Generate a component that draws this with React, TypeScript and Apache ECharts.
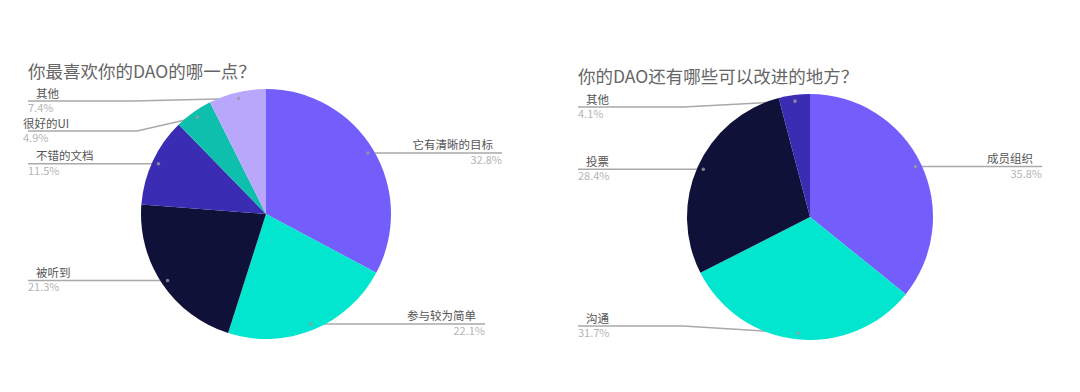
import React, { useEffect, useRef } from "react";
import * as echarts from "echarts";

// ---------- data ----------
const leftTitle = "你最喜欢你的DAO的哪一点？";
const leftNames = ["它有清晰的目标", "参与较为简单", "被听到", "不错的文档", "很好的UI", "其他"];
const leftValues = [32.8, 22.1, 21.3, 11.5, 4.9, 7.4];
const leftColors = ["#735EFB", "#02E5CF", "#0F1139", "#3A2DB3", "#0EBFAE", "#B9A7FB"];

const rightTitle = "你的DAO还有哪些可以改进的地方？";
const rightNames = ["成员组织", "沟通", "投票", "其他"];
const rightValues = [35.8, 31.7, 28.4, 4.1];
const rightColors = ["#735EFB", "#02E5CF", "#0F1139", "#3A2DB3"];

// ---------- layout (positions only) ----------
const FONT = "'Noto Sans CJK SC', 'Noto Sans', sans-serif";
const NAME_LH = 15;
const LEFT_PIE = {
  center: [266, 214], r: 125, leftX: 28, rightX: 502, titleX: 28, titleY: 62,
  over: { 1: { endX: 485 }, 4: { lineY: 131, bendX: 137, pad: -5 }, 5: { lineY: 101, bendX: 133 } } as Record<number, any>,
};
const RIGHT_PIE = {
  center: [810, 217], r: 123, leftX: 578, rightX: 1042, titleX: 578, titleY: 67,
  over: { 1: { lineY: 326, bendX: 683 }, 3: { lineY: 107, bendX: 683 } } as Record<number, any>,
};
const DOT_R = 0.95;

function midAngles(values: number[]) {
  const total = values.reduce((a, b) => a + b, 0);
  let acc = 0;
  return values.map((v) => {
    const m = (acc + v / 2) / total;
    acc += v;
    return m; // fraction of the circle, clockwise from top
  });
}

function buildPie(names: string[], values: number[], colors: string[], cfg: any, polarIndex: number) {
  const mids = midAngles(values);
  const dots = mids.map((m) => {
    const a = m * Math.PI * 2;
    return [cfg.center[0] + Math.sin(a) * cfg.r * DOT_R, cfg.center[1] - Math.cos(a) * cfg.r * DOT_R];
  });
  const isRight = mids.map((m) => m < 0.5);
  const pie = {
    type: "pie",
    center: cfg.center,
    radius: [0, cfg.r],
    startAngle: 90,
    clockwise: true,
    avoidLabelOverlap: false,
    data: names.map((n, i) => ({ name: n, value: values[i], itemStyle: { color: colors[i] } })),
    itemStyle: { borderWidth: 0 },
    label: {
      show: true,
      position: "outside",
      fontFamily: FONT,
      formatter: (p: any) => {
        const o = cfg.over[p.dataIndex] || {};
        const tag = isRight[p.dataIndex] ? "nr" : o.pad !== undefined ? "nl2" : "nl";
        return "{" + tag + "|" + p.name + "}\n{p|" + Number(p.value).toFixed(1) + "%}";
      },
      rich: {
        nr: { fontSize: 11.5, color: "#555555", lineHeight: NAME_LH, padding: [0, 9, 0, 0], fontFamily: FONT },
        nl: { fontSize: 11.5, color: "#555555", lineHeight: NAME_LH, padding: [0, 0, 0, 8], fontFamily: FONT },
        nl2: { fontSize: 11.5, color: "#555555", lineHeight: NAME_LH, padding: [0, 0, 0, 0], fontFamily: FONT },
        p: { fontSize: 11, color: "#b5b5b5", lineHeight: 12, padding: [2, 0, 0, 0], fontFamily: FONT },
      },
    },
    labelLine: { show: true, lineStyle: { color: "#a9a9a9", width: 1.5 } },
    labelLayout: (params: any) => {
      const i = params.dataIndex;
      const o = cfg.over[i] || {};
      const d = dots[i];
      const lineY = o.lineY !== undefined ? o.lineY : d[1];
      const right = isRight[i];
      const endX = o.endX !== undefined ? o.endX : right ? cfg.rightX : cfg.leftX;
      const bendX = o.bendX !== undefined ? o.bendX : (d[0] + endX) / 2;
      const textX = !right && o.pad !== undefined ? endX + o.pad : endX;
      return {
        x: textX,
        y: lineY - NAME_LH - 1,
        align: right ? "right" : "left",
        verticalAlign: "top",
        labelLinePoints: [
          [d[0], d[1]],
          [bendX, lineY],
          [endX, lineY],
        ],
      };
    },
  };
  const scatter = {
    type: "scatter",
    coordinateSystem: "polar",
    polarIndex,
    symbolSize: 3.5,
    silent: true,
    itemStyle: { color: "#9a9a9a" },
    data: mids.map((m) => [DOT_R, m * 100]),
    z: 5,
  };
  return { pie, scatter };
}

export default function App() {
  const ref = useRef<HTMLDivElement>(null);
  useEffect(() => {
    document.body.style.margin = "0";
    if (!ref.current) return;
    const chart = echarts.init(ref.current, undefined, { renderer: "svg" });
    const L = buildPie(leftNames, leftValues, leftColors, LEFT_PIE, 0);
    const R = buildPie(rightNames, rightValues, rightColors, RIGHT_PIE, 1);
    const polar = (cfg: any) => ({ center: cfg.center, radius: cfg.r });
    const angleAxis = (pi: number) => ({
      polarIndex: pi, type: "value", min: 0, max: 100, startAngle: 90, clockwise: true, show: false,
    });
    const radiusAxis = (pi: number) => ({ polarIndex: pi, type: "value", min: 0, max: 1, show: false });
    chart.setOption({
      animation: false,
      backgroundColor: "#ffffff",
      title: [
        {
          text: leftTitle, left: LEFT_PIE.titleX, top: LEFT_PIE.titleY, padding: 0,
          textStyle: { fontSize: 17.5, fontWeight: "normal", color: "#666666", fontFamily: FONT },
        },
        {
          text: rightTitle, left: RIGHT_PIE.titleX, top: RIGHT_PIE.titleY, padding: 0,
          textStyle: { fontSize: 17.5, fontWeight: "normal", color: "#666666", fontFamily: FONT },
        },
      ],
      polar: [polar(LEFT_PIE), polar(RIGHT_PIE)],
      angleAxis: [angleAxis(0), angleAxis(1)],
      radiusAxis: [radiusAxis(0), radiusAxis(1)],
      series: [L.pie, R.pie, L.scatter, R.scatter],
    });
    return () => chart.dispose();
  }, []);
  return <div ref={ref} style={{ width: 1080, height: 392 }} />;
}
